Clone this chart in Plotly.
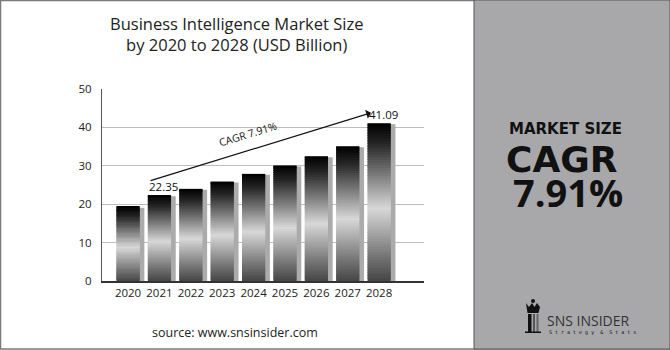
import plotly.graph_objects as go

years = [2020, 2021, 2022, 2023, 2024, 2025, 2026, 2027, 2028]
values = [19.35, 22.35, 24.0, 25.9, 27.9, 30.1, 32.5, 35.1, 41.09]
labeled = {2021: "22.35", 2028: "41.09"}
title_lines = ["Business Intelligence Market Size", "by 2020 to 2028 (USD Billion)"]
cagr_text = "CAGR 7.91%"
side_texts = ["MARKET SIZE", "CAGR", "7.91%"]
source_text = "source: www.snsinsider.com"

W, H = 670, 350
L, R, T, B = 102, 424, 89, 281  # plot area in pixels

def px(x):
    return (x - L) / (R - L)

def py(y):
    return (B - y) / (B - T)

# gradient along bar height (0 bottom -> 1 top)
stops = [(0.0, (70, 70, 70)), (0.15, (115, 115, 115)), (0.46, (216, 216, 216)),
         (0.68, (120, 120, 120)), (0.88, (35, 35, 35)), (1.0, (0, 0, 0))]

def grad(t):
    for (a, ca), (b, cb) in zip(stops[:-1], stops[1:]):
        if a <= t <= b:
            f = (t - a) / (b - a)
            c = [round(ca[k] + (cb[k] - ca[k]) * f) for k in range(3)]
            return "rgb(%d,%d,%d)" % tuple(c)
    return "rgb(0,0,0)"

fig = go.Figure()

# shadow bars
fig.add_trace(go.Bar(x=years, y=[v - 0.25 for v in values], width=0.72, offset=-0.2,
                     marker=dict(color="#ababab", line=dict(width=0)),
                     hoverinfo="skip", showlegend=False))

N = 60
for i in range(N):
    t = (i + 0.5) / N
    top = min(i + 1.6, N)
    fig.add_trace(go.Bar(x=years, y=[v * (top - i) / N for v in values],
                         base=[v * i / N for v in values], width=0.74, offset=-0.37,
                         marker=dict(color=grad(t), line=dict(width=0)),
                         hoverinfo="skip", showlegend=False))

fig.update_layout(
    width=W, height=H, barmode="overlay",
    margin=dict(l=L, r=W - R, t=T, b=H - B, pad=0),
    paper_bgcolor="white", plot_bgcolor="white",
    font=dict(family="Open Sans", color="#222"),
    xaxis=dict(range=[years[0] - 0.83, years[-1] + 1.43], tickvals=years,
               ticktext=[str(y) for y in years], showgrid=False, zeroline=False,
               showline=True, linecolor="#333", linewidth=2,
               ticks="", tickfont=dict(size=11.5, color="#222"), fixedrange=True),
    yaxis=dict(range=[0, 50], tickvals=[0, 10, 20, 30, 40, 50], showgrid=True,
               gridcolor="#bdbdbd", gridwidth=1, zeroline=False, showline=True,
               linecolor="#555", linewidth=1, ticks="", ticklabelstandoff=7,
               tickfont=dict(size=11.5, color="#222"), fixedrange=True),
)

shapes = []
# outer border
shapes.append(dict(type="rect", xref="paper", yref="paper", x0=px(0.5), x1=px(669.5),
                   y0=py(349), y1=py(0.5), line=dict(color="#7a7a7a", width=1.5),
                   fillcolor="rgba(0,0,0,0)", layer="above"))
# grey side panel
shapes.append(dict(type="rect", xref="paper", yref="paper", x0=px(474), x1=px(670),
                   y0=py(349), y1=py(0), line=dict(color="#555", width=1),
                   fillcolor="#a8a8ab", layer="above"))
# logo icon (simplified rook)
ic = "#111"
shapes.append(dict(type="path", xref="paper", yref="paper",
                   path="M %f,%f L %f,%f L %f,%f L %f,%f L %f,%f L %f,%f L %f,%f L %f,%f Z" % (
                       px(526), py(303), px(529), py(307), px(532), py(303), px(534.5), py(307),
                       px(537), py(303), px(540), py(307), px(538.5), py(313), px(527.5), py(313)),
                   fillcolor=ic, line=dict(width=0), layer="above"))
shapes.append(dict(type="circle", xref="paper", yref="paper", x0=px(531), x1=px(535),
                   y0=py(303), y1=py(299), fillcolor=ic, line=dict(width=0), layer="above"))
shapes.append(dict(type="rect", xref="paper", yref="paper", x0=px(528), x1=px(531.5),
                   y0=py(332), y1=py(314), fillcolor=ic, line=dict(width=0), layer="above"))
shapes.append(dict(type="rect", xref="paper", yref="paper", x0=px(533), x1=px(535),
                   y0=py(332), y1=py(314), fillcolor="#555", line=dict(width=0), layer="above"))
shapes.append(dict(type="rect", xref="paper", yref="paper", x0=px(536.5), x1=px(538.5),
                   y0=py(332), y1=py(314), fillcolor="#666", line=dict(width=0), layer="above"))
shapes.append(dict(type="rect", xref="paper", yref="paper", x0=px(525), x1=px(541),
                   y0=py(333), y1=py(331.5), fillcolor=ic, line=dict(width=0), layer="above"))
fig.update_layout(shapes=shapes)

ann = []
ann.append(dict(text="<br>".join(title_lines), xref="paper", yref="paper", x=px(236), y=py(34),
                xanchor="center", yanchor="middle", showarrow=False,
                font=dict(family="Open Sans", size=16.5, color="#222")))
for yr, lab in labeled.items():
    v = values[years.index(yr)]
    ann.append(dict(text=lab, x=yr, y=v, xref="x", yref="y", xanchor="center",
                    yanchor="bottom", yshift=-1, xshift=4, showarrow=False,
                    font=dict(family="Open Sans", size=11.5, color="#111")))
# CAGR arrow
ann.append(dict(x=years[-1] - 0.26, y=values[-1] + 2.7, ax=years[1] - 0.33, ay=values[1] + 3.65,
                xref="x", yref="y", axref="x", ayref="y", text="", showarrow=True,
                arrowhead=1, arrowsize=1.3, arrowwidth=1.2, arrowcolor="#111", standoff=0))
ann.append(dict(text=cagr_text, x=2023.82, y=38.3, xref="x", yref="y", textangle=-17,
                showarrow=False, font=dict(family="Open Sans", size=10.5, color="#111")))
ann.append(dict(text=source_text, xref="paper", yref="paper", x=px(235), y=py(332),
                xanchor="center", yanchor="middle", showarrow=False,
                font=dict(family="Open Sans", size=12.5, color="#222")))
# side panel texts
ann.append(dict(text="<b>%s</b>" % side_texts[0], xref="paper", yref="paper", x=px(565), y=py(129),
                xanchor="center", yanchor="middle", showarrow=False,
                font=dict(family="DejaVu Sans", size=15, color="#111")))
ann.append(dict(text="<b>%s</b>" % side_texts[1], xref="paper", yref="paper", x=px(562), y=py(159),
                xanchor="center", yanchor="middle", showarrow=False,
                font=dict(family="DejaVu Sans", size=36, color="#111")))
ann.append(dict(text="<b>%s</b>" % side_texts[2], xref="paper", yref="paper", x=px(568), y=py(192),
                xanchor="center", yanchor="middle", showarrow=False,
                font=dict(family="Open Sans", size=38, color="#111")))
ann.append(dict(text="SNS INSIDER", xref="paper", yref="paper", x=px(545), y=py(320),
                xanchor="left", yanchor="middle", showarrow=False,
                font=dict(family="Open Sans", size=14, color="#333")))
ann.append(dict(text="S t r a t e g y  &  S t a t s", xref="paper", yref="paper", x=px(547), y=py(332),
                xanchor="left", yanchor="middle", showarrow=False,
                font=dict(family="DejaVu Sans Mono", size=5, color="#111")))
fig.update_layout(annotations=ann)

fig.write_html("out.html", config=dict(displayModeBar=False))
